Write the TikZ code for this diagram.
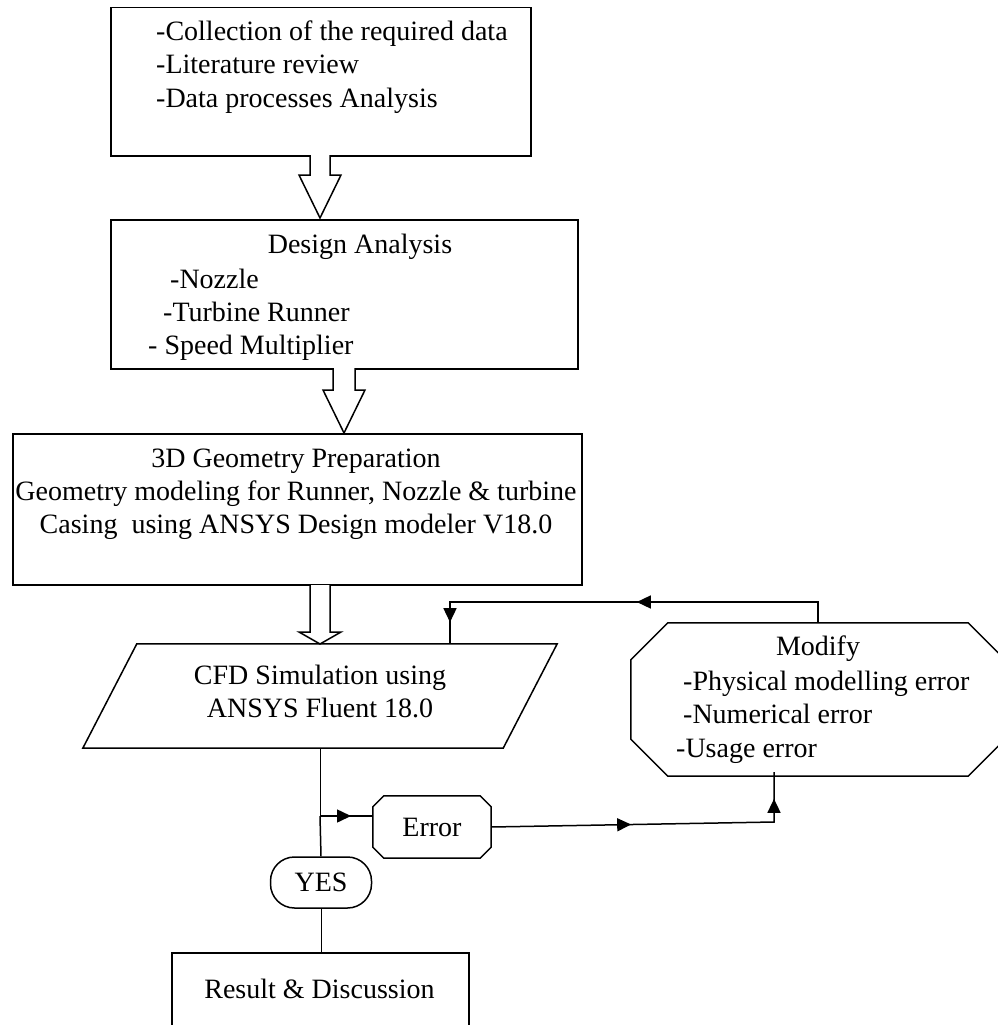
\documentclass[tikz,border=0pt]{standalone}
\usepackage{fontspec}
\setmainfont{Liberation Serif}
\usetikzlibrary{arrows.meta,calc,decorations.markings}
\begin{document}
\begin{tikzpicture}[x=1pt,y=-1pt,
  line/.style={line width=1.5pt},
  thinline/.style={line width=0.8pt},
  box/.style={draw, line width=1.5pt, inner sep=0pt, anchor=north west},
  txt/.style={inner sep=0pt, font=\fontsize{28}{33}\selectfont},
  arr/.tip={Triangle[length=14pt,width=13pt]},
  midarrow/.style={postaction={decorate, decoration={markings, mark=at position #1 with {\arrow{arr}}}}},
  blockarrow/.style={line width=1.5pt, line join=miter},
]
\fill[white] (0,0) rectangle (997,1025);
\useasboundingbox (0,0) rectangle (997,1025);

% Box 1
\node[box, minimum width=420pt, minimum height=148pt] (b1) at (110,7) {};
\node[txt, anchor=base west] (t11) at (156,41) {-Collection of the required data};
\node[txt, anchor=base west] (t12) at (156,74) {-Literature review};
\node[txt, anchor=base west] (t13) at (156,107) {-Data processes Analysis};

% Box 2
\node[box, minimum width=467pt, minimum height=149pt] (b2) at (110,219) {};
\node[txt, anchor=base] (t21) at (360,253) {Design Analysis};
\node[txt, anchor=base west] (t22) at (170,288) {-Nozzle};
\node[txt, anchor=base west] (t23) at (163,321) {-Turbine Runner};
\node[txt, anchor=base west] (t24) at (148,354) {- Speed Multiplier};

% Box 3
\node[box, minimum width=569pt, minimum height=151pt] (b3) at (12,433) {};
\node[txt, anchor=base] (t31) at (296,467) {3D Geometry Preparation};
\node[txt, anchor=base] (t32) at (296,500) {Geometry modeling for Runner, Nozzle \& turbine};
\node[txt, anchor=base] (t33) at (296,533) {Casing\ \ using ANSYS Design modeler V18.0};

% Parallelogram
\node[inner sep=0pt, minimum width=474pt, minimum height=104pt] (par) at (320,696) {};
\draw[line] ($(par.north west)+(54,0)$) -- (par.north east) -- ($(par.south east)+(-54,0)$) -- (par.south west) -- cycle;
\node[txt, anchor=base] (tp1) at (320,684) {CFD Simulation using};
\node[txt, anchor=base] (tp2) at (320,717) {ANSYS Fluent 18.0};

% Octagon (Modify)
\node[inner sep=0pt, minimum width=374pt, minimum height=153pt] (mod) at (818,699.5) {};
\draw[line] ($(mod.north west)+(37,0)$) -- ($(mod.north east)+(-37,0)$) -- ($(mod.north east)+(0,37)$) -- ($(mod.south east)+(0,-37)$) -- ($(mod.south east)+(-37,0)$) -- ($(mod.south west)+(37,0)$) -- ($(mod.south west)+(0,-37)$) -- ($(mod.north west)+(0,37)$) -- cycle;
\node[txt, anchor=base] (tm1) at (818,655) {Modify};
\node[txt, anchor=base west] (tm2) at (683,690) {-Physical modelling error};
\node[txt, anchor=base west] (tm3) at (683,723) {-Numerical error};
\node[txt, anchor=base west] (tm4) at (676,757) {-Usage error};

% Error
\node[inner sep=0pt, minimum width=118pt, minimum height=62pt, txt] (err) at (432,827) {Error};
\draw[line] ($(err.north west)+(11,0)$) -- ($(err.north east)+(-11,0)$) -- ($(err.north east)+(0,11)$) -- ($(err.south east)+(0,-11)$) -- ($(err.south east)+(-11,0)$) -- ($(err.south west)+(11,0)$) -- ($(err.south west)+(0,-11)$) -- ($(err.north west)+(0,11)$) -- cycle;

% YES
\node[draw, line width=1.5pt, rounded corners=24pt, minimum width=101pt, minimum height=51pt, inner sep=0pt, txt] (yes) at (321,882.5) {YES};

% Result
\node[box, minimum width=297pt, minimum height=100pt] (res) at (171,952) {};
\node[txt, anchor=base] (tr) at (319.5,998) {Result \& Discussion};

% Block arrows
\fill[white] (310,153) -- (310,175) -- (299,175) -- (320,218) -- (341,175) -- (330,175) -- (330,153) -- cycle;
\draw[blockarrow] (310,155) -- (310,175) -- (299,175) -- (320,218) -- (341,175) -- (330,175) -- (330,155);
\fill[white] (333,366) -- (333,390) -- (323,390) -- (344,433) -- (365,390) -- (355,390) -- (355,366) -- cycle;
\draw[blockarrow] (333,368) -- (333,390) -- (323,390) -- (344,433) -- (365,390) -- (355,390) -- (355,368);
\fill[white] (310,585) -- (310,632) -- (299,632) -- (320,644) -- (341,632) -- (330,632) -- (330,585) -- cycle;
\draw[blockarrow] (310,584) -- (310,632) -- (299,632) -- (320,644) -- (341,632) -- (330,632) -- (330,584);

% Connectors
\coordinate (fb1) at (818,602);
\coordinate (fb2) at (450,602);
\coordinate (fb3) at (450,644);
\draw[line, midarrow=202pt, midarrow=409pt] (mod.north) -- (fb1) -- (fb2) -- (fb3);

\coordinate (j1) at (320,816);
\draw[thinline] (par.south) -- (j1);
\draw[line, midarrow=31pt] (j1) -- ($(err.west)+(0,-11)$);
\draw[line] (j1) -- (yes.north);

\coordinate (c2) at (774,822);
\coordinate (c3) at (774,772);
\draw[line, midarrow=140pt, midarrow=306pt] (err.east) -- (c2) -- (c3);

\draw[thinline] (yes.south) -- (yes.south |- res.north);
\end{tikzpicture}
\end{document}
